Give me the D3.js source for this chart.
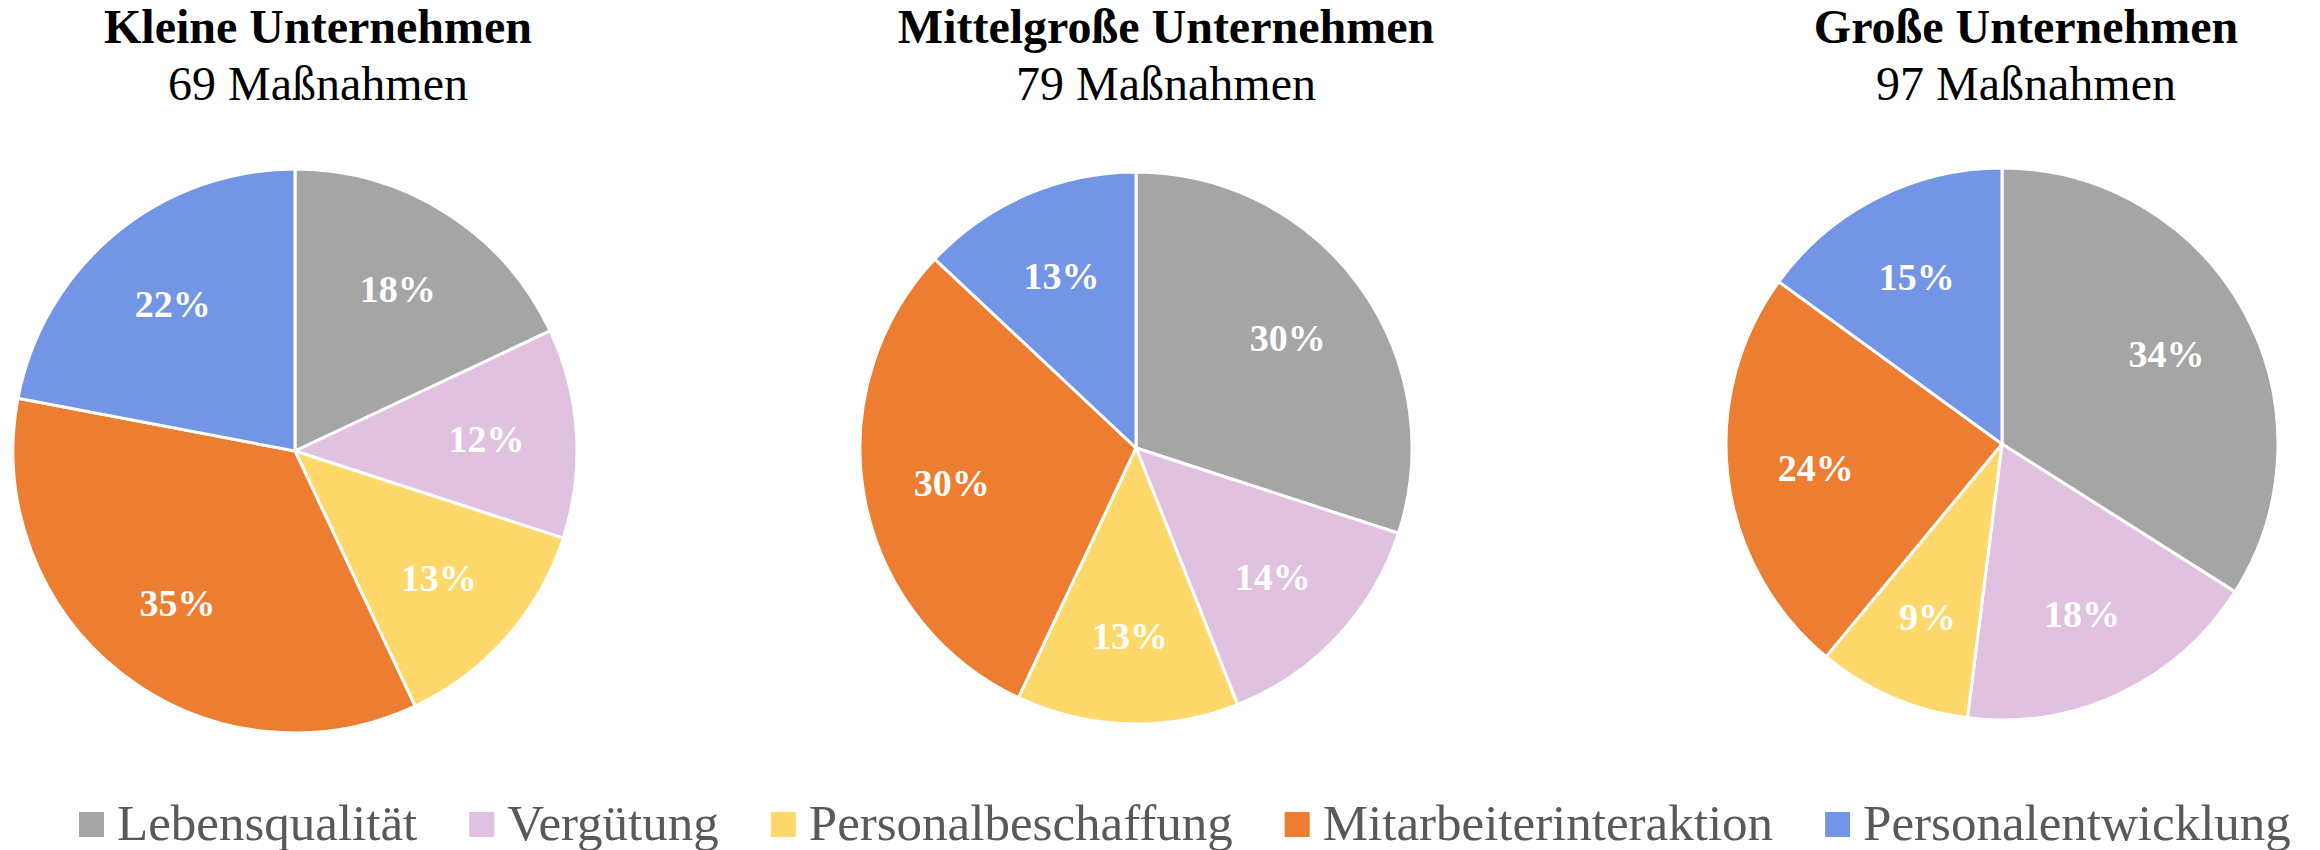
<!DOCTYPE html>
<html>
<head>
<meta charset="utf-8">
<script src="https://cdn.jsdelivr.net/npm/d3@7"></script>
<style>
  body { margin: 0; background: #fff; }
  text { font-family: "Liberation Serif", "Times New Roman", serif; }
</style>
</head>
<body>
<script>
// categories (legend order = slice order, clockwise from 12 o'clock)
var categories = ["Lebensqualität", "Vergütung", "Personalbeschaffung", "Mitarbeiterinteraktion", "Personalentwicklung"];
var colors = ["#a5a5a5", "#e0c1df", "#fed86a", "#ed7d31", "#7295e6"];

var titles = ["Kleine Unternehmen", "Mittelgroße Unternehmen", "Große Unternehmen"];
var subtitles = ["69 Maßnahmen", "79 Maßnahmen", "97 Maßnahmen"];

// percentages per company size
var kleine = [18, 12, 13, 35, 22];
var mittel = [30, 14, 13, 30, 13];
var grosse = [34, 18, 9, 24, 15];
var series = [kleine, mittel, grosse];

var w = 2320;
var h = 850;

// layout of the three pies
var layout = [
  {cx: 295, cy: 451, r: 282, tx: 318},
  {cx: 1136, cy: 448, r: 276, tx: 1166},
  {cx: 2002, cy: 444, r: 276, tx: 2026}
];

var svg = d3.select("body")
  .append("svg")
  .attr("width", w)
  .attr("height", h);

var pie = d3.pie()
  .sort(null)
  .value(function(d) { return d; });

var color = d3.scaleOrdinal()
  .domain(categories)
  .range(colors);

series.forEach(function(values, i) {
  var l = layout[i];
  var arc = d3.arc().innerRadius(0).outerRadius(l.r);
  var labelArc = d3.arc().innerRadius(l.r * 0.68).outerRadius(l.r * 0.68);

  var g = svg.append("g")
    .attr("transform", "translate(" + l.cx + "," + l.cy + ")");

  var slices = pie(values);

  g.selectAll("path")
    .data(slices)
    .enter()
    .append("path")
    .attr("d", arc)
    .attr("fill", function(d, j) { return color(categories[j]); })
    .attr("stroke", "#fff")
    .attr("stroke-width", 3)
    .attr("stroke-linejoin", "round");

  g.selectAll("text")
    .data(slices)
    .enter()
    .append("text")
    .attr("transform", function(d) { return "translate(" + labelArc.centroid(d) + ")"; })
    .attr("text-anchor", "middle")
    .attr("dy", "0.35em")
    .attr("fill", "#fff")
    .attr("font-weight", "bold")
    .attr("font-size", 38)
    .text(function(d) { return d.data + "%"; });

  // title
  svg.append("text")
    .attr("x", l.tx)
    .attr("y", 43)
    .attr("text-anchor", "middle")
    .attr("font-weight", "bold")
    .attr("font-size", 48)
    .attr("fill", "#000")
    .text(titles[i]);

  svg.append("text")
    .attr("x", l.tx)
    .attr("y", 100)
    .attr("text-anchor", "middle")
    .attr("font-size", 48)
    .attr("fill", "#000")
    .text(subtitles[i]);
});

// legend
var legend = svg.append("g").attr("class", "legend");
var lx = 79;
categories.forEach(function(c) {
  legend.append("rect")
    .attr("x", lx)
    .attr("y", 812)
    .attr("width", 25)
    .attr("height", 25)
    .attr("fill", color(c));
  var t = legend.append("text")
    .attr("x", lx + 38)
    .attr("y", 840)
    .attr("font-size", 51)
    .attr("fill", "#595959")
    .text(c);
  lx = lx + 38 + t.node().getComputedTextLength() + 52;
});
</script>
</body>
</html>
